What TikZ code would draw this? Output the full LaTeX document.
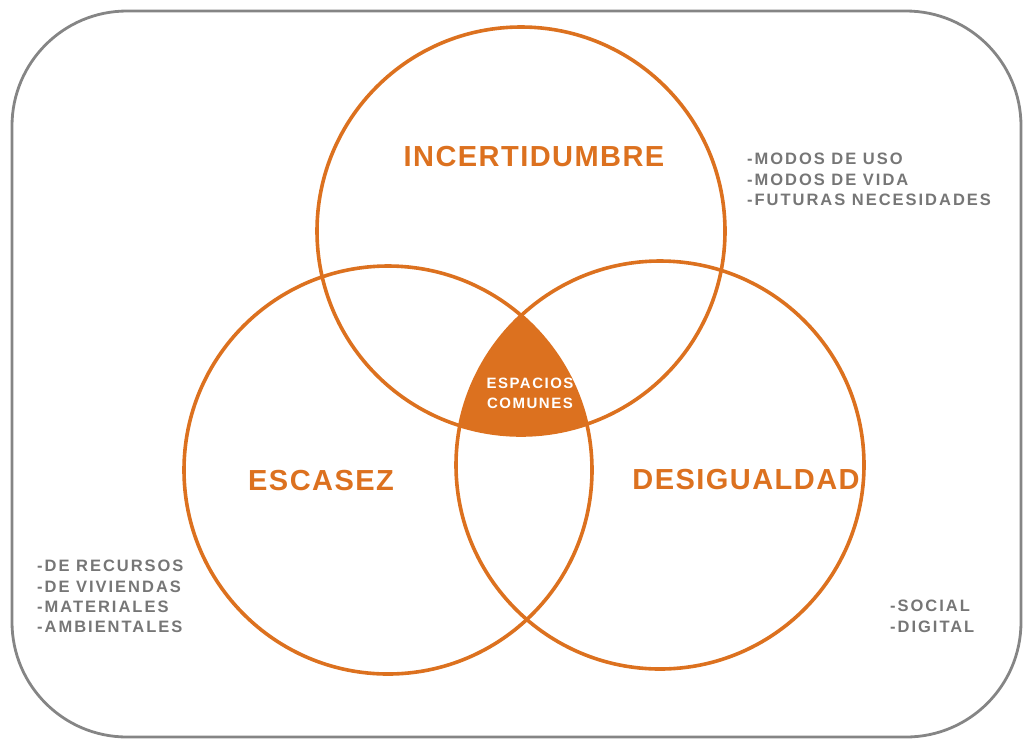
\documentclass[tikz,border=0pt]{standalone}
\usepackage{fontspec}
\setmainfont{Liberation Sans}
\newfontfamily\titlefont[LetterSpace=5]{Liberation Sans}
\newfontfamily\listfont[LetterSpace=12]{Liberation Sans}
\newfontfamily\centerfont[LetterSpace=10]{Liberation Sans}
\definecolor{vorange}{HTML}{DC711F}
\definecolor{vgray}{HTML}{767676}
\definecolor{fgray}{HTML}{858585}
\tikzset{
  venn/.style={circle, draw=vorange, line width=3.6pt, inner sep=0pt, minimum size=408pt},
  ttl/.style={text=vorange, font=\titlefont\fontsize{29}{33}\selectfont\bfseries, inner sep=0pt},
  lst/.style={text=vgray, font=\listfont\fontsize{16.5}{20.3}\selectfont\bfseries, align=left, anchor=north west, inner sep=0pt},
  ctr/.style={text=white, font=\centerfont\fontsize{15}{20}\selectfont\bfseries, align=center, inner sep=0pt}
}
\begin{document}
\begin{tikzpicture}[x=1pt,y=-1pt]
\useasboundingbox (0,0) rectangle (1028,740);
\draw[fgray, line width=2.8pt, rounded corners=115pt] (12,11) rectangle (1021,737);
% triple intersection
\begin{scope}
  \clip (521,231) circle (204pt);
  \clip (388,470) circle (204pt);
  \fill[vorange] (660,465) circle (204pt);
\end{scope}
\node[venn] (ctop) at (521,231) {};
\node[venn] (cleft) at (388,470) {};
\node[venn] (cright) at (660,465) {};
\node[ttl] (tinc) at (534,157) {INCERTIDUMBRE};
\node[ttl] (tesc) at (321,481) {ESCASEZ};
\node[ttl] (tdes) at (746,480) {DESIGUALDAD};
\node[ctr] (tesp) at (530,393) {ESPACIOS\\COMUNES};
\node[lst] (linc) at (747,153) {-MODOS DE USO\\-MODOS DE VIDA\\-FUTURAS NECESIDADES};
\node[lst] (lesc) at (37,560) {-DE RECURSOS\\-DE VIVIENDAS\\-MATERIALES\\-AMBIENTALES};
\node[lst] (ldes) at (890,600) {-SOCIAL\\-DIGITAL};
\end{tikzpicture}
\end{document}
